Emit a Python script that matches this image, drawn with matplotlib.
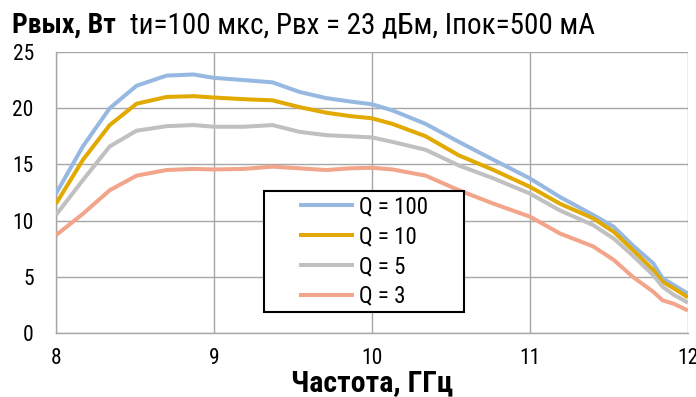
import matplotlib
matplotlib.use("Agg")
import matplotlib.pyplot as plt
from matplotlib import font_manager
from matplotlib.patches import Rectangle

# frequency, GHz
freq = [8.0, 8.17, 8.34, 8.51, 8.7, 8.87, 9.0, 9.19, 9.37, 9.54, 9.71, 9.86, 10.0,
        10.13, 10.34, 10.55, 10.77, 11.0, 11.19, 11.4, 11.53, 11.65, 11.78, 11.84, 11.91, 12.0]

# output power, W
p_q100 = [12.4, 16.6, 20.0, 22.0, 22.9, 23.0, 22.7, 22.5, 22.3, 21.45, 20.9, 20.6, 20.35,
          19.8, 18.6, 17.0, 15.4, 13.75, 12.1, 10.5, 9.45, 7.8, 6.2, 4.85, 4.27, 3.5]
p_q10 = [11.5, 15.4, 18.5, 20.4, 21.0, 21.07, 20.95, 20.8, 20.7, 20.1, 19.6, 19.3, 19.1,
         18.6, 17.5, 15.8, 14.5, 13.0, 11.5, 10.2, 9.0, 7.4, 5.6, 4.55, 3.97, 3.17]
p_q5 = [10.5, 13.6, 16.6, 18.0, 18.4, 18.5, 18.35, 18.35, 18.5, 17.9, 17.6, 17.5, 17.4,
        17.0, 16.3, 14.9, 13.75, 12.4, 10.9, 9.6, 8.4, 6.9, 5.15, 4.1, 3.4, 2.7]
p_q3 = [8.7, 10.6, 12.7, 14.0, 14.5, 14.6, 14.55, 14.6, 14.8, 14.65, 14.5, 14.65, 14.7,
        14.55, 14.0, 12.7, 11.5, 10.35, 8.85, 7.7, 6.5, 5.0, 3.67, 2.9, 2.6, 2.0]

labels = ["Q = 100", "Q = 10", "Q = 5", "Q = 3"]
colors = ["#97B9E1", "#E2AA00", "#C0C0C0", "#F2A58B"]

xticks = [8, 9, 10, 11, 12]
yticks = [0, 5, 10, 15, 20, 25]

# condensed font in place of Arial Narrow
names = {f.name for f in font_manager.fontManager.ttflist}
family = ["Roboto Condensed", "Fira Sans Condensed", "IBM Plex Sans Condensed",
          "Liberation Sans", "DejaVu Sans"]
family = [f for f in family if f in names] or ["DejaVu Sans"]
plt.rcParams["font.family"] = family

fig = plt.figure(figsize=(6.96, 3.97), dpi=100)
ax = fig.add_axes([56 / 696, 1 - 333 / 397, 632 / 696, 281 / 397])

for vals, lab, col in zip([p_q100, p_q10, p_q5, p_q3], labels, colors):
    ax.plot(freq, vals, color=col, lw=2.9, label=lab, solid_joinstyle="round",
            solid_capstyle="butt", zorder=3)

ax.set_xlim(8, 12)
ax.set_ylim(0, 25)
ax.set_xticks(xticks)
ax.set_yticks(yticks)
ax.grid(True, color="#A6A6A6", lw=1.0)
ax.set_axisbelow(True)
for s in ["top", "right"]:
    ax.spines[s].set_visible(False)
for s in ["left", "bottom"]:
    ax.spines[s].set_color("#A6A6A6")
    ax.spines[s].set_linewidth(1.0)
ax.tick_params(length=0, labelsize=15.5, colors="black")
ax.tick_params(axis="y", pad=16)
ax.tick_params(axis="x", pad=11)

# legend box (frame drawn separately so padding can differ)
ax.add_patch(Rectangle((0.329, 0.075), 0.316, 0.431, transform=ax.transAxes,
                       facecolor="white", edgecolor="black", lw=1.5, zorder=4))
ax.legend(loc="center left", bbox_to_anchor=(0.384, 0.29), frameon=False,
          fontsize=16.5, handlelength=2.4, handletextpad=0.25, labelspacing=0.3,
          borderpad=0, borderaxespad=0).set_zorder(5)

fig.text(12 / 696, 1 - 33 / 397, "Рвых, Вт", fontsize=20, fontweight="bold",
         ha="left", va="baseline")
fig.text(130 / 696, 1 - 33 / 397, "tи=100 мкс, Рвх = 23 дБм, Iпок=500 мА",
         fontsize=21, ha="left", va="baseline")
fig.text(372.5 / 696, 1 - 391 / 397, "Частота, ГГц", fontsize=21.5, fontweight="bold",
         ha="center", va="baseline")

fig.savefig("out.png", dpi=100)
